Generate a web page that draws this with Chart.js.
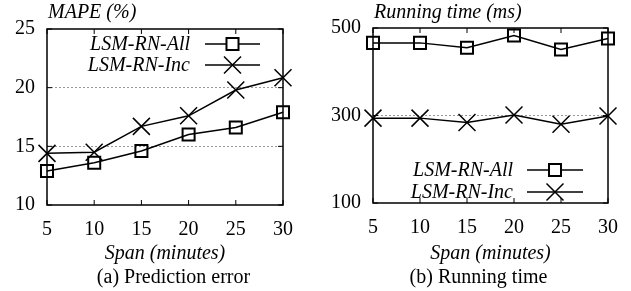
<!DOCTYPE html>
<html>
<head>
<meta charset="utf-8">
<script src="https://cdn.jsdelivr.net/npm/chart.js@4.4.0/dist/chart.umd.min.js"></script>
<style>
  body { margin: 0; background: #fff; }
  #wrap { position: relative; width: 631px; height: 291px; }
  .panel { position: absolute; top: 0; width: 315px; height: 291px; }
  .panel canvas { display: block; }
  .cap { position: absolute; left: 0; top: 265px; font: 20px "Liberation Serif", serif; color: #000; text-align: center; }
</style>
</head>
<body>
<div id="wrap">
  <div class="panel" style="left:0">
    <div style="width:315px;height:266px"><canvas id="errChart"></canvas></div>
    <div class="cap" style="width:355px;left:-4px">(a) Prediction error</div>
  </div>
  <div class="panel" style="left:316px">
    <div style="width:315px;height:266px"><canvas id="timeChart"></canvas></div>
    <div class="cap" style="width:325px">(b) Running time</div>
  </div>
</div>
<script>
// x values (span in minutes)
const spans = [5, 10, 15, 20, 25, 30];
const seriesNames = ["LSM-RN-All", "LSM-RN-Inc"];
// MAPE (%)
const mapeAll = [12.9, 13.6, 14.6, 16.0, 16.6, 17.9];
const mapeInc = [14.4, 14.5, 16.7, 17.6, 19.8, 20.85];
// running time (ms)
const timeAll = [466, 466, 455, 483, 451, 476];
const timeInc = [294, 294, 284, 301, 280, 299];

const FONT = "'Liberation Serif', 'Times New Roman', serif";

const toPoints = (vals) => vals.map((v, i) => ({ x: spans[i], y: v }));

// frame, inner ticks, y-title and legend drawn on top of the chart area
const framePlugin = {
  id: "frame",
  afterDraw(chart, args, opts) {
    const ctx = chart.ctx;
    const a = chart.chartArea;
    const xs = chart.scales.x, ys = chart.scales.y;
    ctx.save();
    ctx.strokeStyle = "#000";
    ctx.lineWidth = 1.5;
    ctx.strokeRect(a.left, a.top, a.right - a.left, a.bottom - a.top);
    ctx.lineWidth = 1;
    ctx.beginPath();
    xs.ticks.forEach(t => {
      const px = xs.getPixelForValue(t.value);
      ctx.moveTo(px, a.bottom); ctx.lineTo(px, a.bottom - 5);
      ctx.moveTo(px, a.top); ctx.lineTo(px, a.top + 5);
    });
    ys.ticks.forEach(t => {
      const py = ys.getPixelForValue(t.value);
      ctx.moveTo(a.left, py); ctx.lineTo(a.left + 5, py);
      ctx.moveTo(a.right, py); ctx.lineTo(a.right - 5, py);
    });
    ctx.stroke();

    // y axis title, top left
    ctx.fillStyle = "#000";
    ctx.font = "italic 20px " + FONT;
    ctx.textAlign = "left";
    ctx.textBaseline = "middle";
    ctx.fillText(opts.yTitle, a.left + 1, 13);

    // legend
    const lg = opts.legend;
    chart.data.datasets.forEach((ds, i) => {
      const y = lg.y + i * lg.row;
      ctx.textAlign = "right";
      ctx.fillText(ds.label, lg.textRight, y + 1);
      ctx.strokeStyle = "#000";
      ctx.lineWidth = 1.5;
      ctx.beginPath();
      ctx.moveTo(lg.x1, y); ctx.lineTo(lg.x2, y);
      ctx.stroke();
      ctx.fillStyle = "#fff";
      ctx.lineWidth = ds.pointBorderWidth;
      Chart.helpers.drawPoint(ctx, {
        pointStyle: ds.pointStyle, radius: ds.pointRadius,
        borderWidth: ds.pointBorderWidth, rotation: 0
      }, (lg.x1 + lg.x2) / 2, y);
      ctx.fillStyle = "#000";
    });
    ctx.restore();
  }
};

function makeDatasets(allVals, incVals) {
  return [
    {
      label: seriesNames[0], data: toPoints(allVals),
      borderColor: "#000", borderWidth: 1.5, backgroundColor: "#fff",
      pointStyle: "rect", pointRadius: 8.5, pointBorderWidth: 2,
      pointBorderColor: "#000", pointBackgroundColor: "rgba(0,0,0,0)",
      clip: false, tension: 0
    },
    {
      label: seriesNames[1], data: toPoints(incVals),
      borderColor: "#000", borderWidth: 1.5,
      pointStyle: "crossRot", pointRadius: 12, pointBorderWidth: 1.5,
      pointBorderColor: "#000",
      clip: false, tension: 0
    }
  ];
}

function makeChart(id, datasets, y, padRight, yLeftW, yTitle, legend) {
  return new Chart(document.getElementById(id), {
    type: "line",
    data: { datasets: datasets },
    plugins: [framePlugin],
    options: {
      responsive: true,
      maintainAspectRatio: false,
      animation: false,
      layout: { padding: { top: y.top, right: padRight, left: 0, bottom: 0 } },
      plugins: {
        legend: { display: false },
        tooltip: { enabled: false },
        frame: { yTitle: yTitle, legend: legend }
      },
      scales: {
        x: {
          type: "linear", min: 5, max: 30,
          afterFit: s => { s.height = 266 - y.bottom; },
          ticks: { stepSize: 5, color: "#000", padding: 13, font: { family: FONT, size: 20 } },
          grid: { display: false, drawTicks: false },
          border: { display: false },
          title: {
            display: true, text: "Span (minutes)", color: "#000",
            font: { family: FONT, size: 20, style: "italic" }, padding: { top: 0, bottom: 0 }
          }
        },
        y: {
          min: y.min, max: y.max,
          afterFit: s => { s.width = yLeftW; },
          ticks: { stepSize: y.step, color: "#000", padding: 12, font: { family: FONT, size: 20 } },
          grid: {
            drawTicks: false, lineWidth: 1,
            color: c => (c.tick && y.grid.includes(c.tick.value)) ? "#999" : "rgba(0,0,0,0)"
          },
          border: { display: false, dash: [2, 2] }
        }
      }
    }
  });
}

function drawAll() {
  makeChart("errChart", makeDatasets(mapeAll, mapeInc),
    { min: 10, max: 25, step: 5, top: 29, bottom: 205, grid: [15, 20] },
    32, 47, "MAPE (%)",
    { textRight: 190, x1: 205, x2: 260, y: 44, row: 21 });

  makeChart("timeChart", makeDatasets(timeAll, timeInc),
    { min: 100, max: 500, step: 200, top: 28, bottom: 203, grid: [300] },
    22, 57, "Running time (ms)",
    { textRight: 197, x1: 211, x2: 267, y: 170, row: 22 });
}

// make sure the serif faces are ready before the canvases draw text
Promise.all([
  document.fonts.load("20px 'Liberation Serif'"),
  document.fonts.load("italic 20px 'Liberation Serif'")
]).then(drawAll, drawAll);
</script>
</body>
</html>
